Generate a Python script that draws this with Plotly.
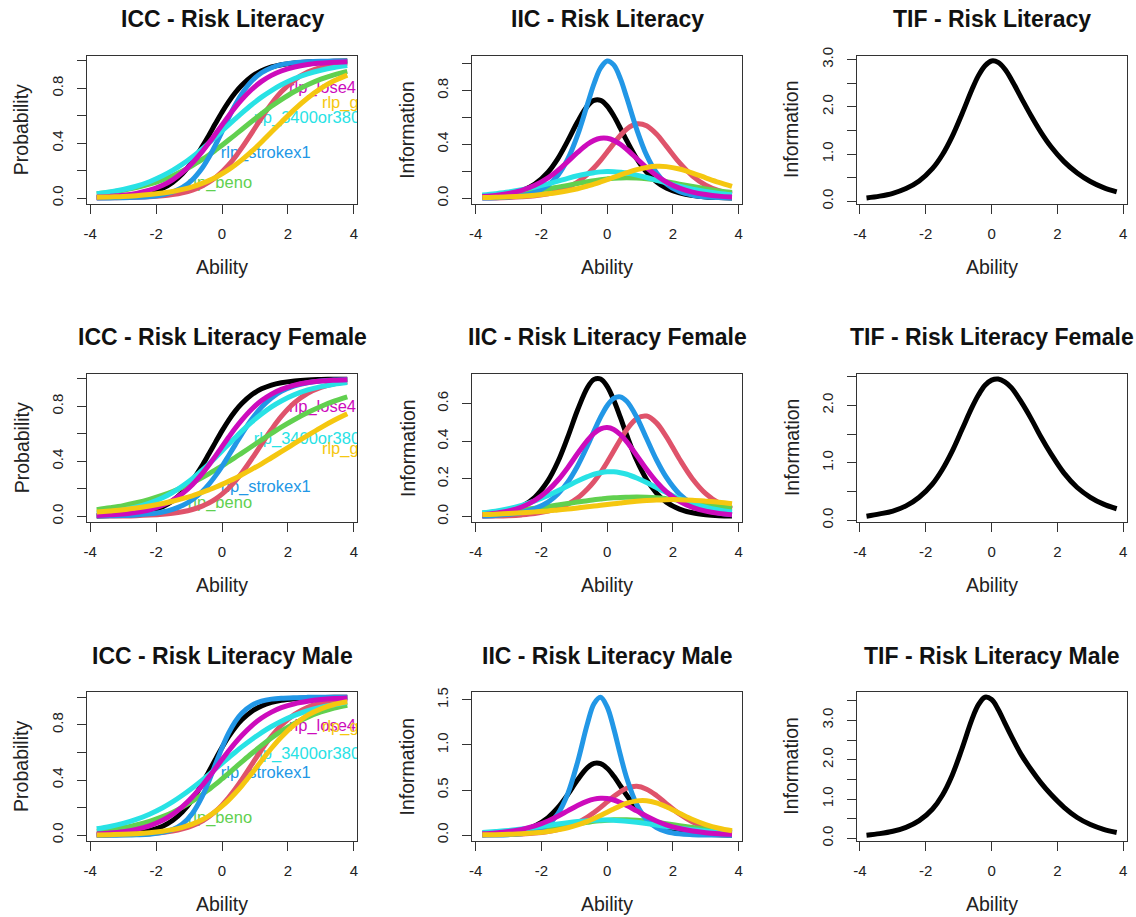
import plotly.graph_objects as go

# ---------------- data ----------------
theta = [-3.8, -3.4, -3.0, -2.6, -2.2, -1.8, -1.5, -1.2, -0.9, -0.6, -0.4, -0.2, 0.0,
         0.2, 0.4, 0.6, 0.9, 1.2, 1.5, 1.8, 2.2, 2.6, 3.0, 3.4, 3.8]

item_colors = ["#000000", "#DF536B", "#61D04F", "#2297E6", "#28E2E5", "#CD0BBC", "#F5C710"]

# Risk Literacy (all)
all_icc_k = [.003, .005, .010, .019, .037, .071, .114, .177, .264, .375, .457, .543, .626, .702, .768, .823, .886, .929, .956, .973, .986, .993, .996, .998, .999]
all_icc_r = [.001, .002, .003, .005, .009, .016, .025, .038, .058, .088, .115, .149, .191, .241, .300, .366, .474, .585, .688, .775, .862, .919, .954, .974, .986]
all_icc_g = [.031, .042, .057, .076, .101, .133, .163, .197, .237, .282, .314, .349, .385, .423, .461, .500, .558, .615, .669, .718, .777, .826, .867, .899, .924]
all_icc_b = [.000, .001, .002, .005, .011, .024, .044, .077, .133, .219, .296, .386, .485, .585, .679, .760, .853, .914, .951, .973, .988, .995, .998, .999, 1.000]
all_icc_c = [.032, .044, .062, .086, .119, .162, .201, .247, .300, .359, .401, .445, .489, .533, .577, .620, .681, .736, .784, .826, .872, .906, .932, .952, .966]
all_icc_m = [.007, .012, .020, .034, .057, .093, .133, .187, .256, .339, .401, .467, .533, .599, .661, .718, .792, .851, .895, .927, .956, .974, .984, .991, .995]
all_icc_y = [.005, .008, .011, .017, .025, .036, .047, .063, .082, .107, .127, .150, .177, .207, .241, .278, .340, .409, .481, .553, .647, .730, .800, .855, .897]
all_iic_k = [.007, .015, .028, .055, .105, .194, .295, .426, .568, .685, .726, .726, .685, .612, .521, .426, .295, .194, .123, .076, .040, .020, .010, .005, .003]
all_iic_r = [.002, .003, .006, .011, .019, .034, .053, .081, .121, .178, .226, .281, .343, .406, .466, .515, .553, .539, .477, .387, .264, .165, .097, .056, .032]
all_iic_g = [.018, .025, .033, .043, .055, .070, .083, .096, .110, .123, .131, .138, .144, .149, .151, .152, .150, .144, .135, .123, .105, .087, .070, .055, .043]
all_iic_b = [.002, .004, .009, .020, .045, .096, .170, .290, .468, .698, .850, .967, 1.019, .990, .890, .744, .511, .320, .190, .108, .050, .023, .010, .005, .002]
all_iic_c = [.024, .034, .046, .063, .083, .107, .127, .148, .167, .182, .190, .196, .198, .197, .193, .187, .172, .154, .134, .114, .089, .067, .050, .036, .026]
all_iic_m = [.013, .021, .036, .059, .096, .151, .207, .272, .340, .401, .430, .445, .445, .430, .401, .362, .295, .227, .169, .121, .075, .046, .028, .016, .010]
all_iic_y = [.005, .007, .011, .016, .023, .033, .043, .056, .071, .091, .105, .121, .138, .156, .173, .190, .213, .229, .237, .235, .217, .187, .152, .118, .088]
all_tif = [.07, .11, .17, .27, .43, .69, .98, 1.37, 1.85, 2.36, 2.66, 2.87, 2.97, 2.94, 2.80, 2.58, 2.19, 1.81, 1.46, 1.16, .84, .60, .42, .29, .20]

# Risk Literacy Female
fem_icc_k = [.002, .005, .010, .019, .037, .070, .112, .174, .260, .370, .453, .538, .622, .699, .766, .821, .885, .928, .956, .973, .986, .993, .996, .998, .999]
fem_icc_r = [.001, .001, .002, .004, .008, .014, .021, .032, .049, .074, .096, .125, .161, .204, .256, .315, .417, .526, .632, .727, .827, .896, .939, .965, .980]
fem_icc_g = [.047, .061, .077, .098, .123, .153, .180, .210, .244, .282, .309, .337, .366, .397, .428, .460, .508, .556, .603, .649, .705, .756, .800, .838, .870]
fem_icc_b = [.001, .003, .005, .009, .017, .031, .050, .078, .120, .180, .232, .294, .364, .441, .520, .598, .706, .795, .862, .910, .950, .973, .986, .992, .996]
fem_icc_c = [.022, .032, .046, .067, .096, .135, .173, .220, .274, .336, .380, .427, .476, .524, .573, .620, .686, .745, .797, .840, .886, .920, .944, .962, .974]
fem_icc_m = [.006, .010, .016, .028, .047, .080, .116, .165, .230, .311, .372, .438, .507, .575, .641, .701, .780, .843, .890, .924, .955, .974, .985, .991, .995]
fem_icc_y = [.030, .038, .047, .060, .075, .093, .109, .128, .149, .174, .192, .211, .232, .254, .277, .302, .341, .382, .426, .470, .530, .589, .646, .699, .747]
fem_iic_k = [.007, .014, .028, .054, .103, .191, .291, .422, .566, .686, .729, .731, .692, .619, .528, .431, .299, .197, .125, .077, .040, .020, .010, .005, .003]
fem_iic_r = [.002, .003, .005, .009, .016, .029, .044, .066, .099, .147, .186, .234, .289, .348, .408, .463, .521, .534, .498, .425, .306, .200, .122, .072, .041]
fem_iic_g = [.019, .024, .030, .037, .045, .054, .062, .069, .077, .084, .089, .093, .097, .100, .102, .103, .104, .103, .100, .095, .087, .077, .067, .056, .047]
fem_iic_b = [.003, .006, .012, .022, .042, .077, .120, .183, .269, .376, .454, .528, .589, .628, .636, .612, .528, .415, .302, .209, .120, .067, .036, .019, .010]
fem_iic_c = [.020, .029, .042, .060, .083, .112, .137, .163, .189, .212, .225, .233, .238, .238, .233, .225, .205, .181, .154, .128, .096, .070, .050, .035, .024]
fem_iic_m = [.010, .018, .030, .051, .086, .139, .193, .260, .335, .405, .442, .466, .473, .463, .436, .397, .325, .251, .185, .132, .081, .049, .029, .017, .010]
fem_iic_y = [.011, .013, .016, .020, .025, .030, .035, .040, .046, .052, .056, .060, .064, .068, .072, .076, .081, .085, .088, .090, .090, .087, .082, .076, .068]
fem_tif = [.07, .11, .16, .25, .40, .63, .88, 1.20, 1.58, 1.96, 2.18, 2.35, 2.44, 2.46, 2.41, 2.31, 2.06, 1.77, 1.45, 1.16, .82, .57, .40, .28, .20]

# Risk Literacy Male
mal_icc_k = [.002, .004, .008, .016, .033, .065, .106, .169, .258, .373, .460, .549, .635, .714, .781, .836, .897, .937, .962, .978, .989, .995, .997, .999, .999]
mal_icc_r = [.001, .002, .003, .006, .011, .019, .030, .046, .069, .103, .134, .172, .218, .272, .334, .402, .511, .619, .717, .797, .876, .927, .958, .976, .987]
mal_icc_g = [.029, .039, .054, .074, .100, .134, .165, .203, .246, .295, .331, .368, .408, .448, .490, .531, .592, .651, .705, .754, .810, .856, .893, .921, .942]
mal_icc_b = [.000, .000, .001, .003, .007, .020, .040, .081, .157, .281, .391, .512, .633, .739, .823, .884, .941, .971, .986, .993, .997, .999, 1.000, 1.000, 1.000]
mal_icc_c = [.046, .063, .085, .114, .152, .199, .241, .289, .342, .399, .439, .480, .521, .561, .601, .640, .694, .744, .788, .826, .868, .902, .927, .946, .961]
mal_icc_m = [.009, .015, .025, .042, .068, .108, .151, .207, .277, .360, .421, .484, .548, .610, .669, .723, .793, .849, .892, .924, .953, .971, .983, .990, .994]
mal_icc_y = [.002, .004, .006, .010, .017, .028, .040, .057, .080, .112, .139, .172, .210, .254, .304, .358, .447, .540, .630, .712, .802, .870, .916, .947, .967]
mal_iic_k = [.006, .012, .025, .051, .102, .195, .304, .450, .614, .749, .796, .793, .742, .655, .548, .439, .296, .189, .116, .070, .035, .017, .009, .004, .002]
mal_iic_r = [.002, .004, .007, .013, .023, .041, .062, .094, .139, .200, .251, .308, .369, .428, .481, .520, .541, .510, .440, .350, .235, .147, .087, .050, .028]
mal_iic_g = [.019, .026, .035, .047, .062, .080, .095, .111, .128, .143, .153, .160, .166, .170, .172, .172, .166, .157, .143, .128, .106, .085, .066, .050, .038]
mal_iic_b = [.001, .002, .006, .017, .045, .118, .237, .458, .810, 1.236, 1.457, 1.529, 1.422, 1.182, .893, .628, .340, .172, .085, .041, .015, .006, .002, .001, .000]
mal_iic_c = [.029, .040, .052, .068, .087, .107, .123, .138, .151, .161, .166, .168, .168, .166, .161, .155, .143, .128, .112, .097, .077, .060, .046, .034, .025]
mal_iic_m = [.015, .025, .041, .065, .103, .158, .210, .269, .328, .377, .399, .409, .406, .390, .363, .328, .269, .210, .158, .115, .074, .046, .028, .017, .010]
mal_iic_y = [.004, .006, .010, .016, .026, .041, .059, .082, .113, .153, .184, .219, .255, .291, .325, .354, .380, .382, .358, .315, .244, .174, .118, .077, .049]
mal_tif = [.08, .12, .18, .28, .45, .74, 1.09, 1.60, 2.28, 3.02, 3.40, 3.59, 3.53, 3.28, 2.94, 2.60, 2.13, 1.75, 1.41, 1.12, .79, .53, .35, .23, .15]

# item labels drawn inside the ICC panels
label_text = ["rlp_beno", "rlp_strokex1", "rlp_3400or380", "rlp_lose4", "rlp_g"]
label_item = [2, 3, 4, 5, 6]
label_x = [-1.036, -0.038, 0.96, 2.034, 3.032]
label_y_all = [0.10, 0.32, 0.58, 0.80, 0.686]
label_y_fem = [0.092, 0.208, 0.553, 0.79, 0.486]
label_y_mal = [0.12, 0.444, 0.58, 0.783, 0.776]

group_names = ["Risk Literacy", "Risk Literacy Female", "Risk Literacy Male"]

x_tickvals = [-4, -2, 0, 2, 4]
x_ticktext = ["-4", "-2", "0", "2", "4"]
icc_tickvals = [0, 0.2, 0.4, 0.6, 0.8, 1.0]
icc_ticktext = ["0.0", "", "0.4", "", "0.8", ""]
iic_tickvals = [[0, 0.2, 0.4, 0.6, 0.8, 1.0], [0, 0.2, 0.4, 0.6], [0, 0.5, 1.0, 1.5]]
iic_ticktext = [["0.0", "", "0.4", "", "0.8", ""], ["0.0", "0.2", "0.4", "0.6"], ["0.0", "0.5", "1.0", "1.5"]]
tif_tickvals = [[0, 0.5, 1, 1.5, 2, 2.5, 3], [0, 0.5, 1, 1.5, 2, 2.5], [0, 0.5, 1, 1.5, 2, 2.5, 3, 3.5]]
tif_ticktext = [["0.0", "", "1.0", "", "2.0", "", "3.0"], ["0.0", "", "1.0", "", "2.0", ""],
                ["0.0", "", "1.0", "", "2.0", "", "3.0", ""]]

groups = [
    ([all_icc_k, all_icc_r, all_icc_g, all_icc_b, all_icc_c, all_icc_m, all_icc_y],
     [all_iic_k, all_iic_r, all_iic_g, all_iic_b, all_iic_c, all_iic_m, all_iic_y], all_tif, label_y_all),
    ([fem_icc_k, fem_icc_r, fem_icc_g, fem_icc_b, fem_icc_c, fem_icc_m, fem_icc_y],
     [fem_iic_k, fem_iic_r, fem_iic_g, fem_iic_b, fem_iic_c, fem_iic_m, fem_iic_y], fem_tif, label_y_fem),
    ([mal_icc_k, mal_icc_r, mal_icc_g, mal_icc_b, mal_icc_c, mal_icc_m, mal_icc_y],
     [mal_iic_k, mal_iic_r, mal_iic_g, mal_iic_b, mal_iic_c, mal_iic_m, mal_iic_y], mal_tif, label_y_mal),
]

# ---------------- layout geometry ----------------
W, H = 1136, 917
COLS = [(86.7, 357.3), (472.3, 742.0), (856.5, 1126.7)]
ROWS = [(55.5, 203.5), (373.5, 521.7), (691.7, 840.7)]
FONT = "Liberation Sans, Arial, Helvetica, sans-serif"
AXC = "#333333"
LW = 5


def r_range(vals):
    lo, hi = min(vals), max(vals)
    pad = 0.04 * (hi - lo)
    return [lo - pad, hi + pad]


fig = go.Figure()
annotations = []
layout_axes = {}

x_range = r_range(theta)

for r, (icc, iic, tif, lab_y) in enumerate(groups):
    panels = [
        ("ICC", "Probability", icc, icc_tickvals, icc_ticktext),
        ("IIC", "Information", iic, iic_tickvals[r], iic_ticktext[r]),
        ("TIF", "Information", [tif], tif_tickvals[r], tif_ticktext[r]),
    ]
    for c, (kind, ylabel, curves, tv, tt) in enumerate(panels):
        idx = r * 3 + c + 1
        xs = "x" if idx == 1 else f"x{idx}"
        ys = "y" if idx == 1 else f"y{idx}"
        xl, xr = COLS[c]
        yt, yb = ROWS[r]
        dom_x = [xl / W, xr / W]
        dom_y = [1 - yb / H, 1 - yt / H]

        if kind == "ICC":
            yr = r_range([0.0, 1.0])
            # labels first so that the curves are drawn over them
            for t, it, lx, ly in zip(label_text, label_item, label_x, lab_y):
                fig.add_trace(go.Scatter(x=[lx], y=[ly], mode="text", text=[t],
                                         textposition="middle right",
                                         textfont=dict(family=FONT, size=16.5, color=item_colors[it]),
                                         cliponaxis=True, showlegend=False, hoverinfo="skip",
                                         xaxis=xs, yaxis=ys))
        else:
            allv = [v for cv in curves for v in cv]
            yr = r_range(allv)

        for k, cv in enumerate(curves):
            col = item_colors[k] if kind != "TIF" else "#000000"
            fig.add_trace(go.Scatter(x=theta, y=cv, mode="lines",
                                     line=dict(color=col, width=LW, shape="spline", smoothing=1.0),
                                     showlegend=False, hoverinfo="skip", xaxis=xs, yaxis=ys))

        common = dict(showgrid=False, zeroline=False, showline=True, linecolor=AXC, linewidth=1,
                      mirror=True, ticks="outside", ticklen=9, tickwidth=1, tickcolor=AXC,
                      automargin=False,
                      tickfont=dict(family=FONT, size=15, color="#222222"))
        layout_axes["xaxis" if idx == 1 else f"xaxis{idx}"] = dict(
            domain=dom_x, anchor=ys, range=x_range, tickmode="array",
            tickvals=x_tickvals, ticktext=x_ticktext, ticklabelstandoff=7, **common)
        layout_axes["yaxis" if idx == 1 else f"yaxis{idx}"] = dict(
            domain=dom_y, anchor=xs, range=yr, tickmode="array",
            tickvals=tv, ticktext=tt, tickangle=-90, ticklabelstandoff=8, **common)

        cx = (xl + xr) / 2 / W
        cy = 1 - (yt + yb) / 2 / H
        annotations.append(dict(text=f"<b>{kind} - {group_names[r]}</b>", x=cx, y=1 - (yt - 36) / H,
                                xref="paper", yref="paper", showarrow=False, xanchor="center",
                                yanchor="middle", font=dict(family=FONT, size=23, color="#111111")))
        annotations.append(dict(text="Ability", x=cx, y=1 - (yb + 63.5) / H,
                                xref="paper", yref="paper", showarrow=False, xanchor="center",
                                yanchor="middle", font=dict(family=FONT, size=19.5, color="#222222")))
        annotations.append(dict(text=ylabel, x=(xl - 65) / W, y=cy, textangle=-90,
                                xref="paper", yref="paper", showarrow=False, xanchor="center",
                                yanchor="middle", font=dict(family=FONT, size=19.5, color="#222222")))

fig.update_layout(width=W, height=H, margin=dict(l=0, r=0, t=0, b=0, pad=0),
                  paper_bgcolor="white", plot_bgcolor="white",
                  annotations=annotations, showlegend=False, **layout_axes)

fig.write_html("out.html")
